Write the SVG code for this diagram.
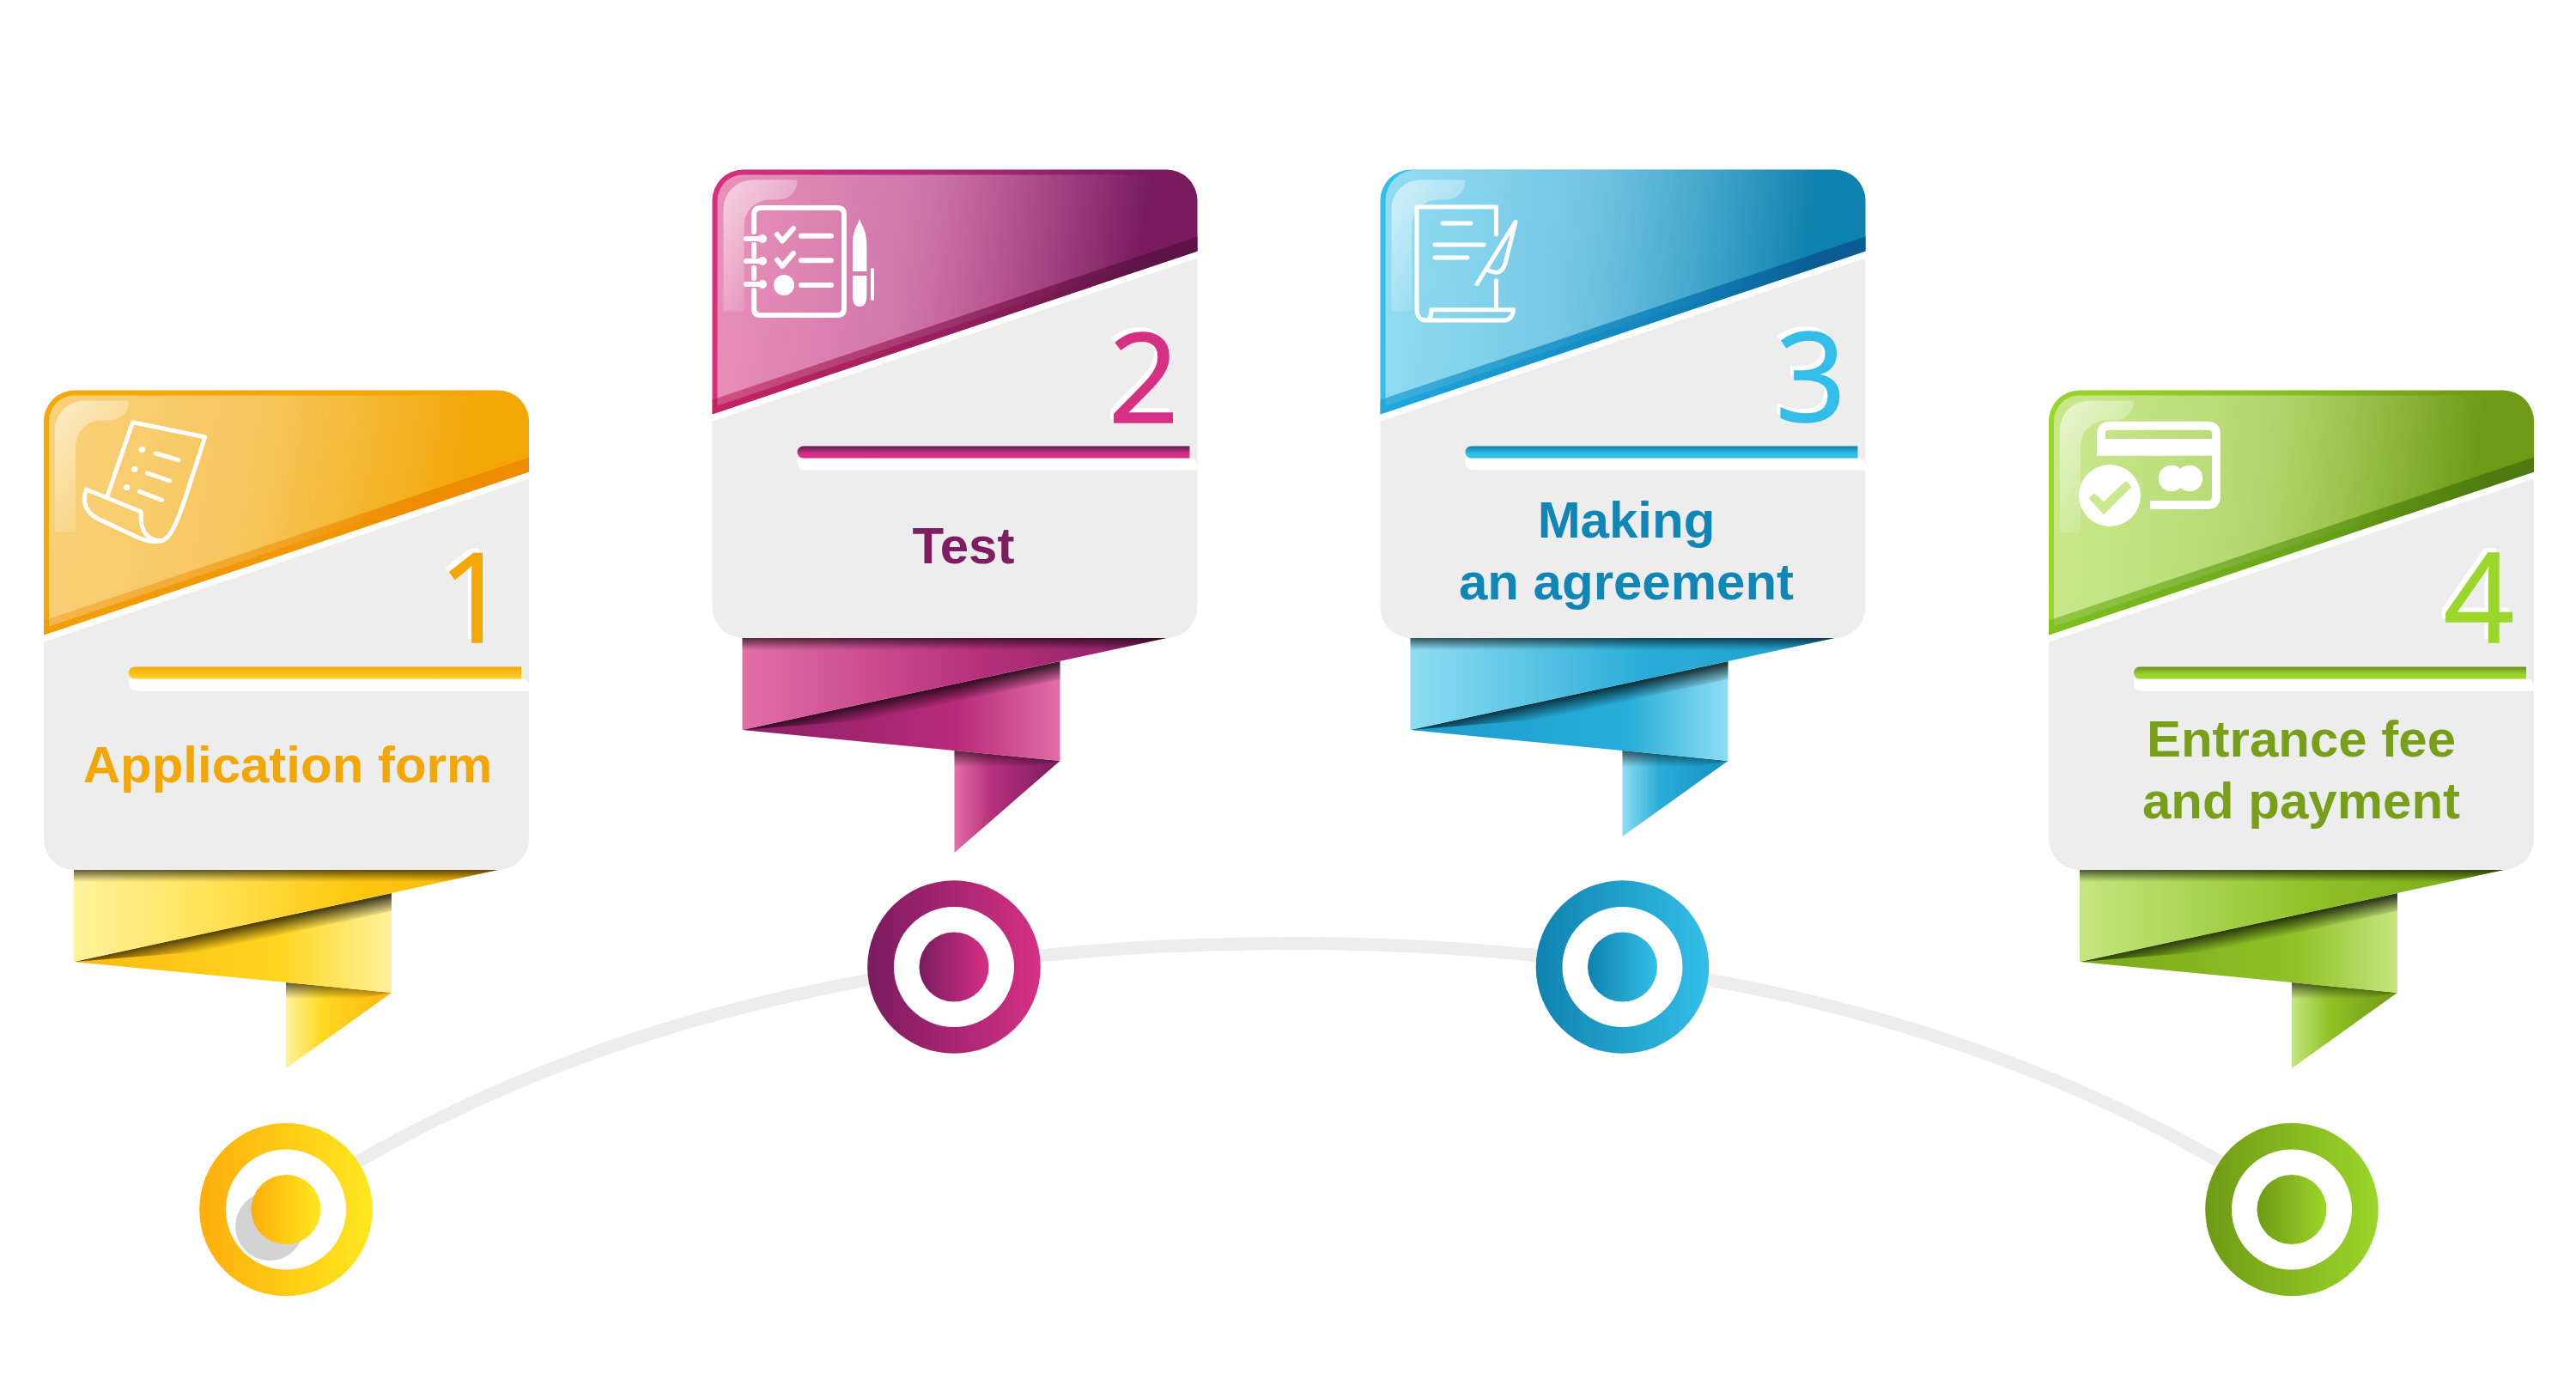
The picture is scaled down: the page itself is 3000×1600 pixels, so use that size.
<svg xmlns="http://www.w3.org/2000/svg" width="3000" height="1600" viewBox="0 0 3000 1600">
<style>
.bg{fill:#fff}
.arc{fill:none;stroke:#ededed;stroke-width:15}
.body{fill:#ededed}
.wh{fill:#fff}
.sheen{fill:url(#sheen)}
.glare{fill:url(#glare)}
.topshade{fill:url(#shadeV)}
.fold{fill:url(#foldShade)}
.num{font-family:"Open Sans","DejaVu Sans",sans-serif;font-size:144px;text-anchor:middle;stroke-width:1.5px}
.lbl{font-family:"Liberation Sans",Arial,sans-serif;font-weight:700;font-size:60px;text-anchor:middle}
.ln{fill:none;stroke:#fff;stroke-width:5;stroke-linecap:round;stroke-linejoin:round}
.c1 .base{fill:url(#b1)}.c1 .band{fill:url(#d1)}.c1 .bar{fill:url(#r1)}.c1 .up{fill:url(#u1)}.c1 .lo{fill:url(#l1)}.c1 .tl{fill:url(#t1)}.c1 .disc{fill:url(#k1)}.c1 .num,.c1 .lbl{fill:#f3a704}.c1 .num{stroke:#f3a704}
.c2 .base{fill:url(#b2)}.c2 .band{fill:url(#d2)}.c2 .bar{fill:url(#r2)}.c2 .up{fill:url(#u2)}.c2 .lo{fill:url(#l2)}.c2 .tl{fill:url(#t2)}.c2 .disc{fill:url(#k2)}.c2 .num{fill:#d63084;stroke:#d63084}.c2 .lbl{fill:#7f1d62}
.c3 .base{fill:url(#b3)}.c3 .band{fill:url(#d3)}.c3 .bar{fill:url(#r3)}.c3 .up{fill:url(#u3)}.c3 .lo{fill:url(#l3)}.c3 .tl{fill:url(#t3)}.c3 .disc{fill:url(#k3)}.c3 .num{fill:#32bee8;stroke:#32bee8}.c3 .lbl{fill:#0f86b5}
.c4 .base{fill:url(#b4)}.c4 .band{fill:url(#d4)}.c4 .bar{fill:url(#r4)}.c4 .up{fill:url(#u4)}.c4 .lo{fill:url(#l4)}.c4 .tl{fill:url(#t4)}.c4 .disc{fill:url(#k4)}.c4 .num{fill:#9bd62a;stroke:#9bd62a}.c4 .lbl{fill:#789f1a}
.c1 .num.ghost,.c2 .num.ghost,.c3 .num.ghost,.c4 .num.ghost{fill:#fff;stroke:#fff}
</style>
<defs>
<linearGradient id="sheen" x1="0" y1="0.42" x2="1" y2="0.5"><stop offset="0" stop-color="#fff" stop-opacity=".46"/><stop offset=".4" stop-color="#fff" stop-opacity=".36"/><stop offset=".65" stop-color="#fff" stop-opacity=".18"/><stop offset=".88" stop-color="#fff" stop-opacity="0"/></linearGradient>
<linearGradient id="glare" x1="0" y1="0" x2=".7" y2="1"><stop offset="0" stop-color="#fff" stop-opacity=".6"/><stop offset="1" stop-color="#fff" stop-opacity="0"/></linearGradient>
<linearGradient id="shadeV" x1="0" y1="0" x2="0" y2="1"><stop offset="0" stop-color="#000" stop-opacity=".62"/><stop offset="1" stop-color="#000" stop-opacity="0"/></linearGradient>
<linearGradient id="foldShade" gradientUnits="userSpaceOnUse" x1="185" y1="67" x2="189" y2="87"><stop offset="0" stop-color="#000" stop-opacity=".72"/><stop offset="1" stop-color="#000" stop-opacity="0"/></linearGradient>

<linearGradient id="b1"><stop offset="0" stop-color="#f4a805"/><stop offset="1" stop-color="#f2a705"/></linearGradient>
<linearGradient id="d1"><stop offset="0" stop-color="#ee8c00" stop-opacity=".35"/><stop offset=".55" stop-color="#ee8c00" stop-opacity=".6"/><stop offset=".8" stop-color="#ee8c00"/></linearGradient>
<linearGradient id="r1" x1="0" y1="0" x2="0" y2="1"><stop offset="0" stop-color="#f3a704"/><stop offset="1" stop-color="#ffd22a"/></linearGradient>
<linearGradient id="u1"><stop offset="0" stop-color="#fff29c"/><stop offset=".3" stop-color="#ffe45a"/><stop offset=".65" stop-color="#ffc80f"/><stop offset="1" stop-color="#fdb80f"/></linearGradient>
<linearGradient id="l1"><stop offset="0" stop-color="#fdb80f"/><stop offset=".65" stop-color="#ffd61f"/><stop offset="1" stop-color="#fff29c"/></linearGradient>
<linearGradient id="t1"><stop offset="0" stop-color="#fff29c"/><stop offset=".35" stop-color="#ffd820"/><stop offset="1" stop-color="#fdb60f"/></linearGradient>
<linearGradient id="k1"><stop offset="0" stop-color="#fdae0c"/><stop offset="1" stop-color="#ffe81f"/></linearGradient>

<linearGradient id="b2"><stop offset="0" stop-color="#d6307f"/><stop offset=".5" stop-color="#ad2878"/><stop offset=".88" stop-color="#7a1b60"/></linearGradient>
<linearGradient id="d2"><stop offset="0" stop-color="#b81648" stop-opacity=".5"/><stop offset=".5" stop-color="#8a1c56" stop-opacity=".7"/><stop offset=".9" stop-color="#5c1446"/></linearGradient>
<linearGradient id="r2" x1="0" y1="0" x2="0" y2="1"><stop offset="0" stop-color="#5f1e58"/><stop offset=".65" stop-color="#d63084"/></linearGradient>
<linearGradient id="u2"><stop offset="0" stop-color="#e26ea8"/><stop offset=".55" stop-color="#b7307c"/><stop offset="1" stop-color="#8a1f68"/></linearGradient>
<linearGradient id="l2"><stop offset="0" stop-color="#8a1f68"/><stop offset=".68" stop-color="#b92a7a"/><stop offset="1" stop-color="#e26ea8"/></linearGradient>
<linearGradient id="t2"><stop offset="0" stop-color="#e26ea8"/><stop offset=".35" stop-color="#b7307c"/><stop offset="1" stop-color="#7a1b60"/></linearGradient>
<linearGradient id="k2"><stop offset="0" stop-color="#7a1b60"/><stop offset="1" stop-color="#d63084"/></linearGradient>

<linearGradient id="b3"><stop offset="0" stop-color="#33bfe8"/><stop offset=".5" stop-color="#239fcd"/><stop offset=".88" stop-color="#0f82af"/></linearGradient>
<linearGradient id="d3"><stop offset="0" stop-color="#1a9fd8" stop-opacity=".7"/><stop offset=".6" stop-color="#1080b8" stop-opacity=".9"/><stop offset=".9" stop-color="#0a5c94"/></linearGradient>
<linearGradient id="r3" x1="0" y1="0" x2="0" y2="1"><stop offset="0" stop-color="#0f7fae"/><stop offset=".65" stop-color="#33bfe8"/></linearGradient>
<linearGradient id="u3"><stop offset="0" stop-color="#8fddf3"/><stop offset=".55" stop-color="#29add8"/><stop offset="1" stop-color="#1c9ccb"/></linearGradient>
<linearGradient id="l3"><stop offset="0" stop-color="#1c9ccb"/><stop offset=".68" stop-color="#27add8"/><stop offset="1" stop-color="#8fddf3"/></linearGradient>
<linearGradient id="t3"><stop offset="0" stop-color="#8fddf3"/><stop offset=".35" stop-color="#29add8"/><stop offset="1" stop-color="#1590bf"/></linearGradient>
<linearGradient id="k3"><stop offset="0" stop-color="#0f82af"/><stop offset="1" stop-color="#33bfe8"/></linearGradient>

<linearGradient id="b4"><stop offset="0" stop-color="#9bd62a"/><stop offset=".5" stop-color="#88bd22"/><stop offset=".88" stop-color="#6f9a15"/></linearGradient>
<linearGradient id="d4"><stop offset="0" stop-color="#6cb317" stop-opacity=".6"/><stop offset=".55" stop-color="#5f9a18" stop-opacity=".75"/><stop offset=".9" stop-color="#4f7a10"/></linearGradient>
<linearGradient id="r4" x1="0" y1="0" x2="0" y2="1"><stop offset="0" stop-color="#6f8f20"/><stop offset=".65" stop-color="#9bd62a"/></linearGradient>
<linearGradient id="u4"><stop offset="0" stop-color="#c5e67f"/><stop offset=".55" stop-color="#8fc226"/><stop offset="1" stop-color="#79a81b"/></linearGradient>
<linearGradient id="l4"><stop offset="0" stop-color="#79a81b"/><stop offset=".68" stop-color="#8fc226"/><stop offset="1" stop-color="#c5e67f"/></linearGradient>
<linearGradient id="t4"><stop offset="0" stop-color="#c5e67f"/><stop offset=".35" stop-color="#8fc226"/><stop offset="1" stop-color="#6f9a15"/></linearGradient>
<linearGradient id="k4"><stop offset="0" stop-color="#6f9a15"/><stop offset="1" stop-color="#9bd62a"/></linearGradient>

<path id="cardTop" d="M0,285V36A36,36 0 0 1 36,0H529A36,36 0 0 1 565,36V95Z"/>
<path id="cardInner" d="M6,275V36A30,30 0 0 1 36,6H529A30,30 0 0 1 559,36V89Z"/>
<path id="cardGlare" d="M13,46A34,34 0 0 1 47,12H99V14A22,22 0 0 1 78,35H68A30,30 0 0 0 37,65V165H13Z"/>
<path id="cardBand" d="M0,268L565,78V95L0,285Z"/>
<path id="cardStrip" d="M0,285L565,95V103L0,293Z"/>
<path id="barGhost" d="M99,329V340Q99,350 109,350H565V344Q565,336 555,336H99Z"/>
<path id="bar" d="M106,322H556V336H106A7,7 0 0 1 106,322Z"/>
<polygon id="ribUp" points="0,0 494,0 0,107"/>
<polygon id="ribLo" points="0,107 370,27 370,143"/>
<polygon id="ribTop" points="0,0 494,0 430,14 0,14"/>
<polygon id="ribFold" points="0,107 370,27 370,48 150,95"/>
<path id="arcHalf" d="M333,1404.5C381.7,1372.5 430.3,1344 479,1318.7C527.7,1293.4 576.3,1271.1 625,1251.4C673.7,1231.7 722.3,1214.5 771,1199.5C819.7,1184.4 868.3,1171.5 917,1160.4C965.7,1149.2 1014.3,1139.9 1063,1132.1C1111.7,1124.3 1160.3,1118 1209,1113.1C1257.7,1108.1 1306.3,1104.5 1355,1102.1C1403.7,1099.7 1452.3,1098.5 1501,1098.5"/>
</defs>

<rect class="bg" width="3000" height="1600"/>

<g id="connectors">
<use href="#arcHalf" class="arc"/>
<use href="#arcHalf" class="arc" transform="translate(3002,0) scale(-1,1)"/>
</g>

<g id="node-1" class="c1">
<g transform="translate(51,454.5)">
<rect class="body" width="565" height="558.5" rx="36"/>
<use href="#cardStrip" class="wh"/>
<use href="#cardTop" class="base"/>
<use href="#cardInner" class="sheen"/>
<use href="#cardGlare" class="glare"/>
<use href="#cardBand" class="band"/>
<use href="#barGhost" class="wh"/>
<use href="#bar" class="bar"/>
</g>
<g class="ln">
<path d="M124.9,577.8L154.5,491.7L238.7,509L215.8,580C207,606 198,630 186,630"/>
<path d="M100.4,570L164.4,596C163,612 167,628 186,630C170,633 160,625 115,604.6C100,597 95,585 100.4,570Z"/>
<path d="M181.4,528L207.9,535.7M171.5,551L197.6,559.8M162.4,572.4L188.5,582.4"/>
<path d="M165,523.4h.5M156.5,546.4h.5M147.4,567.4h.5" stroke-width="7"/>
</g>
<text class="num ghost" x="552" y="748" transform="translate(-4,-5)">1</text>
<text class="num" x="552" y="748">1</text>
<text class="lbl" x="335" y="911">Application form</text>
<g transform="translate(86,1013)">
<polygon class="tl" points="247,131 370,143 247,231"/>
<polygon class="topshade" points="247,131 370,143 330,150 247,150"/>
<use href="#ribLo" class="lo"/>
<use href="#ribFold" class="fold"/>
<use href="#ribUp" class="up"/>
<use href="#ribTop" class="topshade"/>
</g>
<circle class="disc" cx="333" cy="1408.5" r="100.8"/>
<circle class="wh" cx="333" cy="1408.5" r="70"/>
<circle cx="314" cy="1428" r="40" fill="#d3d3d3"/>
<circle class="disc" cx="333" cy="1408.5" r="40.5"/>
</g>

<g id="node-2" class="c2">
<g transform="translate(829.5,197.5)">
<rect class="body" width="565" height="545.5" rx="36"/>
<use href="#cardStrip" class="wh"/>
<use href="#cardTop" class="base"/>
<use href="#cardInner" class="sheen"/>
<use href="#cardGlare" class="glare"/>
<use href="#cardBand" class="band"/>
<use href="#barGhost" class="wh"/>
<use href="#bar" class="bar"/>
</g>
<g class="ln" style="stroke-width:6">
<path d="M878,270V250Q878,242 886,242H975Q983,242 983,250V359Q983,367 975,367H886Q878,367 878,359V338M878,285V298M878,312V324"/>
<path d="M869,278H888M869,304H888M869,331H888"/>
<path d="M905,273L911,280.7L924,266M905,302.7L911,310L924,295"/>
<path d="M933,274.7H968M933,303.3H968M933,332H968"/>
<path d="M1016,314V348" stroke-width="4"/>
</g>
<g fill="#fff">
<circle cx="888" cy="278" r="5"/><circle cx="888" cy="304" r="5"/><circle cx="888" cy="331" r="5"/>
<circle cx="913" cy="332" r="12"/>
<path d="M1001,255C1003,262 1009.4,268 1009.4,285V316H993V285C993,268 999,262 1001,255Z"/>
<path d="M993,321H1009.4V345Q1009,357 1001,357Q993,357 993,345Z"/>
</g>
<text class="num ghost" x="1332" y="492" transform="translate(-4,-5)">2</text>
<text class="num" x="1332" y="492">2</text>
<text class="lbl" x="1122" y="656">Test</text>
<g transform="translate(864.5,743)">
<polygon class="tl" points="247,131 370,143 247,250"/>
<polygon class="topshade" points="247,131 370,143 330,150 247,150"/>
<use href="#ribLo" class="lo"/>
<use href="#ribFold" class="fold"/>
<use href="#ribUp" class="up"/>
<use href="#ribTop" class="topshade"/>
</g>
<circle class="disc" cx="1111" cy="1126" r="100.8"/>
<circle class="wh" cx="1111" cy="1126" r="70"/>
<circle class="disc" cx="1111" cy="1126" r="40.5"/>
</g>

<g id="node-3" class="c3">
<g transform="translate(1607.5,197.5)">
<rect class="body" width="565" height="545.5" rx="36"/>
<use href="#cardStrip" class="wh"/>
<use href="#cardTop" class="base"/>
<path class="sheen" d="M6,275V36A36,36 0 0 1 42,0H529A30,36 0 0 1 559,36V89Z"/>
<use href="#cardGlare" class="glare"/>
<use href="#cardBand" class="band"/>
<use href="#barGhost" class="wh"/>
<use href="#bar" class="bar"/>
</g>
<g class="ln">
<path d="M1742.4,273V241H1650V360C1650,368 1654,373 1660,373H1753Q1761,372 1762.6,360.7H1667Q1667,373 1660,373"/>
<path d="M1742.4,326.7V360"/>
<path d="M1680,260H1713M1671,285H1728M1671,300H1709"/>
<path d="M1720,330.7L1765,258.3L1753,306.7Q1748,322 1734,315"/>
</g>
<text class="num ghost" x="2109" y="491" transform="translate(-4,-5)">3</text>
<text class="num" x="2109" y="491">3</text>
<text class="lbl" x="1894" y="626">Making</text>
<text class="lbl" x="1894" y="698">an agreement</text>
<g transform="translate(1642.5,743)">
<polygon class="tl" points="247,131 370,143 247,231"/>
<polygon class="topshade" points="247,131 370,143 330,150 247,150"/>
<use href="#ribLo" class="lo"/>
<use href="#ribFold" class="fold"/>
<use href="#ribUp" class="up"/>
<use href="#ribTop" class="topshade"/>
</g>
<circle class="disc" cx="1889.5" cy="1126" r="100.8"/>
<circle class="wh" cx="1889.5" cy="1126" r="70"/>
<circle class="disc" cx="1889.5" cy="1126" r="40.5"/>
</g>

<g id="node-4" class="c4">
<g transform="translate(2386,454.5)">
<rect class="body" width="565" height="558.5" rx="36"/>
<use href="#cardStrip" class="wh"/>
<use href="#cardTop" class="base"/>
<use href="#cardInner" class="sheen"/>
<use href="#cardGlare" class="glare"/>
<use href="#cardBand" class="band"/>
<use href="#barGhost" class="wh"/>
<use href="#bar" class="bar"/>
</g>
<g fill="#fff">
<path d="M2504,588H2571Q2581,588 2581,578V505.5Q2581,495.7 2571,495.7H2457Q2447,495.7 2447,505.5V525" fill="none" stroke="#fff" stroke-width="10"/>
<rect x="2442" y="511" width="144" height="19.7"/>
<circle cx="2529" cy="557" r="15.3"/>
<circle cx="2550" cy="557" r="15.3"/>
<circle cx="2457" cy="577" r="36"/>
<polygon points="2432.4,580 2439,574.3 2450,584.3 2475.7,560 2482.6,566.7 2450,599.3" fill="#cbe98e"/>
</g>
<text class="num ghost" x="2887" y="748" transform="translate(-4,-5)">4</text>
<text class="num" x="2887" y="748">4</text>
<text class="lbl" x="2680" y="881">Entrance fee</text>
<text class="lbl" x="2680" y="953">and payment</text>
<g transform="translate(2422,1013)">
<polygon class="tl" points="247,131 370,143 247,231"/>
<polygon class="topshade" points="247,131 370,143 330,150 247,150"/>
<use href="#ribLo" class="lo"/>
<use href="#ribFold" class="fold"/>
<use href="#ribUp" class="up"/>
<use href="#ribTop" class="topshade"/>
</g>
<circle class="disc" cx="2669" cy="1408.5" r="100.8"/>
<circle class="wh" cx="2669" cy="1408.5" r="70"/>
<circle class="disc" cx="2669" cy="1408.5" r="40.5"/>
</g>
</svg>
